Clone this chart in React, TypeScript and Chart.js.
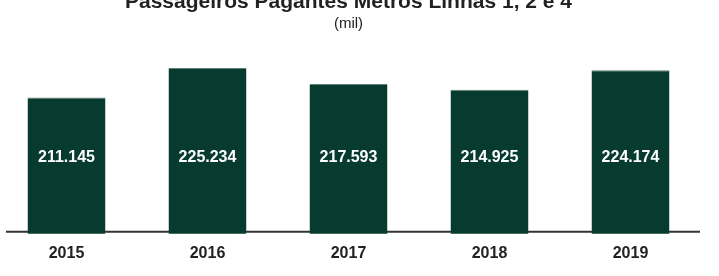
import React, { useEffect, useRef } from "react";
import { Chart, registerables } from "chart.js";

Chart.register(...registerables);

const categories = ["2015", "2016", "2017", "2018", "2019"];
const passengers = [211.145, 225.234, 217.593, 214.925, 224.174];
const valueLabels = ["211.145", "225.234", "217.593", "214.925", "224.174"];
const titleText = "Passageiros Pagantes Metrôs Linhas 1, 2 e 4";
const subtitleText = "(mil)";

const FONT = "'Liberation Sans', Arial, Helvetica, sans-serif";

const axisLinePlugin = {
  id: "axisLine",
  beforeDatasetsDraw(chart: any) {
    const { ctx, chartArea } = chart;
    ctx.save();
    ctx.strokeStyle = "#333333";
    ctx.lineWidth = 2;
    ctx.beginPath();
    ctx.moveTo(chartArea.left + 10, chartArea.bottom - 2);
    ctx.lineTo(chartArea.right - 1, chartArea.bottom - 2);
    ctx.stroke();
    ctx.restore();
  },
};

const valueLabelPlugin = {
  id: "valueLabels",
  afterDatasetsDraw(chart: any) {
    const { ctx, chartArea } = chart;
    const meta = chart.getDatasetMeta(0);
    ctx.save();
    ctx.fillStyle = "#ffffff";
    ctx.font = `bold 16px ${FONT}`;
    ctx.textAlign = "center";
    ctx.textBaseline = "middle";
    meta.data.forEach((bar: any, i: number) => {
      ctx.fillText(valueLabels[i], bar.x, chartArea.bottom - 76);
    });
    ctx.restore();
  },
};

export default function App() {
  const ref = useRef<HTMLCanvasElement | null>(null);
  useEffect(() => {
    if (!ref.current) return;
    const chart = new Chart(ref.current, {
      type: "bar",
      data: {
        labels: categories,
        datasets: [
          {
            data: passengers,
            backgroundColor: "#073b2f",
            borderColor: "#5f8278",
            borderWidth: { top: 1, left: 0, right: 0, bottom: 0 },
            borderSkipped: false,
            barPercentage: 0.553,
            categoryPercentage: 1,
          },
        ],
      },
      options: {
        animation: false,
        responsive: true,
        maintainAspectRatio: false,
        layout: { padding: { left: 0, right: 0, top: 0, bottom: 3 } },
        plugins: {
          legend: { display: false },
          tooltip: { enabled: false },
          title: {
            display: true,
            text: titleText,
            color: "#222222",
            font: { family: FONT, size: 21, weight: "bold" },
            padding: { top: 0, bottom: 0 },
          },
          subtitle: {
            display: true,
            text: subtitleText,
            color: "#222222",
            font: { family: FONT, size: 15, weight: "normal" },
            padding: { top: 0, bottom: 6 },
          },
        },
        scales: {
          x: {
            grid: { display: false, drawTicks: false },
            border: { display: false },
            ticks: {
              color: "#222222",
              font: { family: FONT, size: 16, weight: "bold" },
              padding: 10,
            },
          },
          y: {
            display: false,
            min: 146.2,
            max: 239,
          },
        },
      },
      plugins: [axisLinePlugin, valueLabelPlugin],
    });
    return () => chart.destroy();
  }, []);

  return (
    <div
      style={{
        position: "absolute",
        left: -4,
        top: -10,
        width: 705,
        height: 286,
      }}
    >
      <canvas ref={ref} />
    </div>
  );
}
